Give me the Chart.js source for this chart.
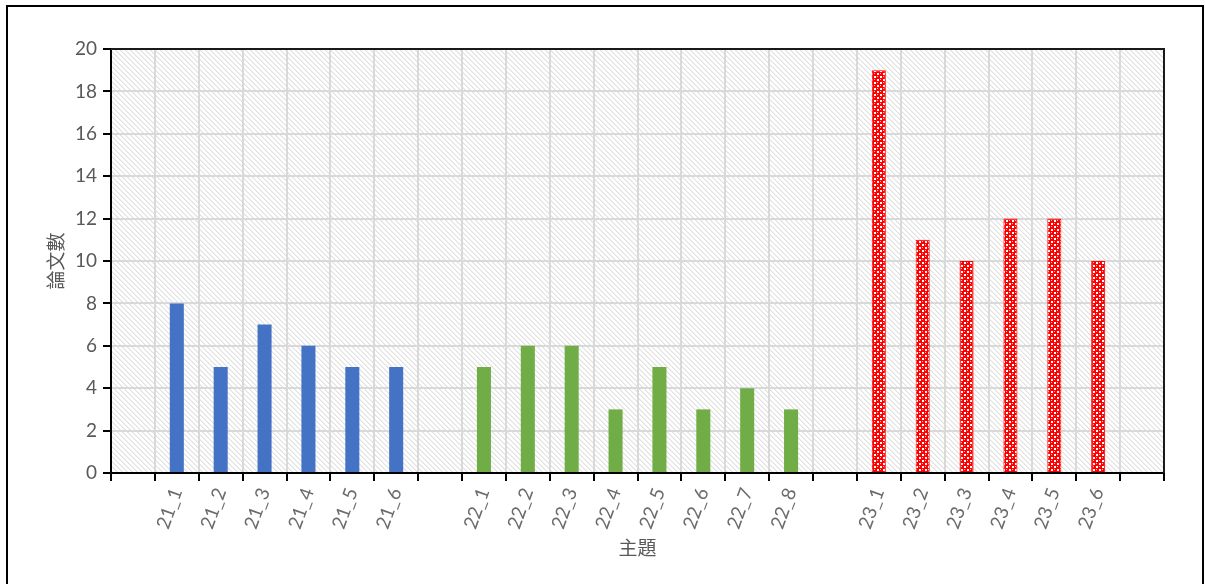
<!DOCTYPE html>
<html><head><meta charset="utf-8">
<script src="https://cdn.jsdelivr.net/npm/chart.js@4.4.1/dist/chart.umd.min.js"></script>
<style>html,body{margin:0;padding:0;background:#fff;overflow:hidden}</style>
</head><body>
<canvas id="c" width="1205" height="584" style="display:block;width:1205px;height:584px"></canvas>
<script>
const categories = ['', '21_1','21_2','21_3','21_4','21_5','21_6', '', '22_1','22_2','22_3','22_4','22_5','22_6','22_7','22_8', '', '23_1','23_2','23_3','23_4','23_5','23_6', ''];
const values = [null, 8,5,7,6,5,5, null, 5,6,6,3,5,3,4,3, null, 19,11,10,12,12,10, null];
const groups = ['', '21','21','21','21','21','21', '', '22','22','22','22','22','22','22','22', '', '23','23','23','23','23','23', ''];
const yTitle = '論文數';
const xTitle = '主題';

function makeHatch() {
  const p = document.createElement('canvas');
  p.width = 5; p.height = 5;
  const g = p.getContext('2d');
  g.fillStyle = '#ffffff'; g.fillRect(0,0,5,5);
  g.fillStyle = '#e2e2e2';
  for (let i = 0; i < 5; i++) { g.fillRect(i, i, 1, 1); }
  g.fillStyle = '#eeeeee';
  for (let i = 0; i < 5; i++) { g.fillRect((i+1)%5, i, 1, 1); }
  return g.createPattern(p, 'repeat');
}
function makeRed() {
  const p = document.createElement('canvas');
  p.width = 6; p.height = 6;
  const g = p.getContext('2d');
  g.fillStyle = '#ff0000'; g.fillRect(0,0,6,6);
  g.fillStyle = '#ffffff';
  g.fillRect(1,1,2,2); g.fillRect(4,4,2,2);
  g.fillStyle = '#ffc0c0';
  g.fillRect(4,1,1,1); g.fillRect(1,4,1,1);
  return g.createPattern(p, 'repeat');
}
const hatch = makeHatch();
const redPat = makeRed();
const colorFor = {'21':'#4472C4','22':'#70AD47','23':redPat,'':'rgba(0,0,0,0)'};
const borderFor = {'21':'#4472C4','22':'#70AD47','23':'#ff0000','':'rgba(0,0,0,0)'};

const framePlugin = {
  id: 'frame',
  beforeDraw(chart) {
    const {ctx, chartArea: a} = chart;
    ctx.save();
    ctx.fillStyle = '#ffffff';
    ctx.fillRect(0,0,chart.width,chart.height);
    ctx.fillStyle = hatch;
    ctx.fillRect(a.left, a.top, a.right - a.left, a.bottom - a.top);
    ctx.restore();
  },
  afterDraw(chart) {
    const {ctx, chartArea: a} = chart;
    ctx.save();
    ctx.strokeStyle = '#1a1a1a';
    ctx.lineWidth = 2;
    ctx.beginPath();
    ctx.moveTo(a.left, a.top); ctx.lineTo(a.right, a.top); ctx.lineTo(a.right, a.bottom);
    ctx.stroke();
    ctx.strokeStyle = '#000';
    ctx.lineWidth = 2;
    ctx.strokeRect(7, 6, 1196, 600);
    ctx.restore();
  }
};

const tickFont = {family: 'Lato, "Open Sans", sans-serif', size: 19};
new Chart(document.getElementById('c'), {
  type: 'bar',
  data: {
    labels: categories,
    datasets: [{
      data: values,
      backgroundColor: groups.map(g => colorFor[g]),
      borderColor: groups.map(g => borderFor[g]),
      borderWidth: groups.map(g => g === '23' ? 1 : 0),
      barPercentage: 0.32,
      categoryPercentage: 1.0
    }]
  },
  options: {
    responsive: false,
    animation: false,
    devicePixelRatio: 1,
    layout: {padding: {left: 0, top: 49, right: 41, bottom: 0}},
    plugins: {legend: {display: false}, tooltip: {enabled: false}},
    scales: {
      x: {
        offset: true,
        grid: {offset: true, color: '#d9d9d9', lineWidth: 2, tickColor: '#000', tickLength: 8, tickWidth: 2, drawOnChartArea: true},
        border: {color: '#000', width: 2},
        ticks: {color: '#6b6b6b', font: tickFont, minRotation: 70, maxRotation: 70, autoSkip: false, padding: 4},
        title: {display: true, text: xTitle, color: '#595959', font: {family: '"Noto Sans CJK TC", sans-serif', size: 19}, padding: {top: 0, bottom: 25}},
        afterFit(s) { s.height = 111; }
      },
      y: {
        min: 0, max: 20,
        ticks: {stepSize: 2, color: '#595959', font: tickFont, padding: 6},
        grid: {color: '#d9d9d9', lineWidth: 2, tickColor: '#000', tickLength: 8, tickWidth: 2},
        border: {color: '#000', width: 2},
        title: {display: true, text: yTitle, color: '#595959', font: {family: '"Noto Sans CJK TC", sans-serif', size: 19}, padding: {top: 44, bottom: 0}},
        afterFit(s) { s.width = 111; }
      }
    }
  },
  plugins: [framePlugin]
});
</script>
</body></html>
